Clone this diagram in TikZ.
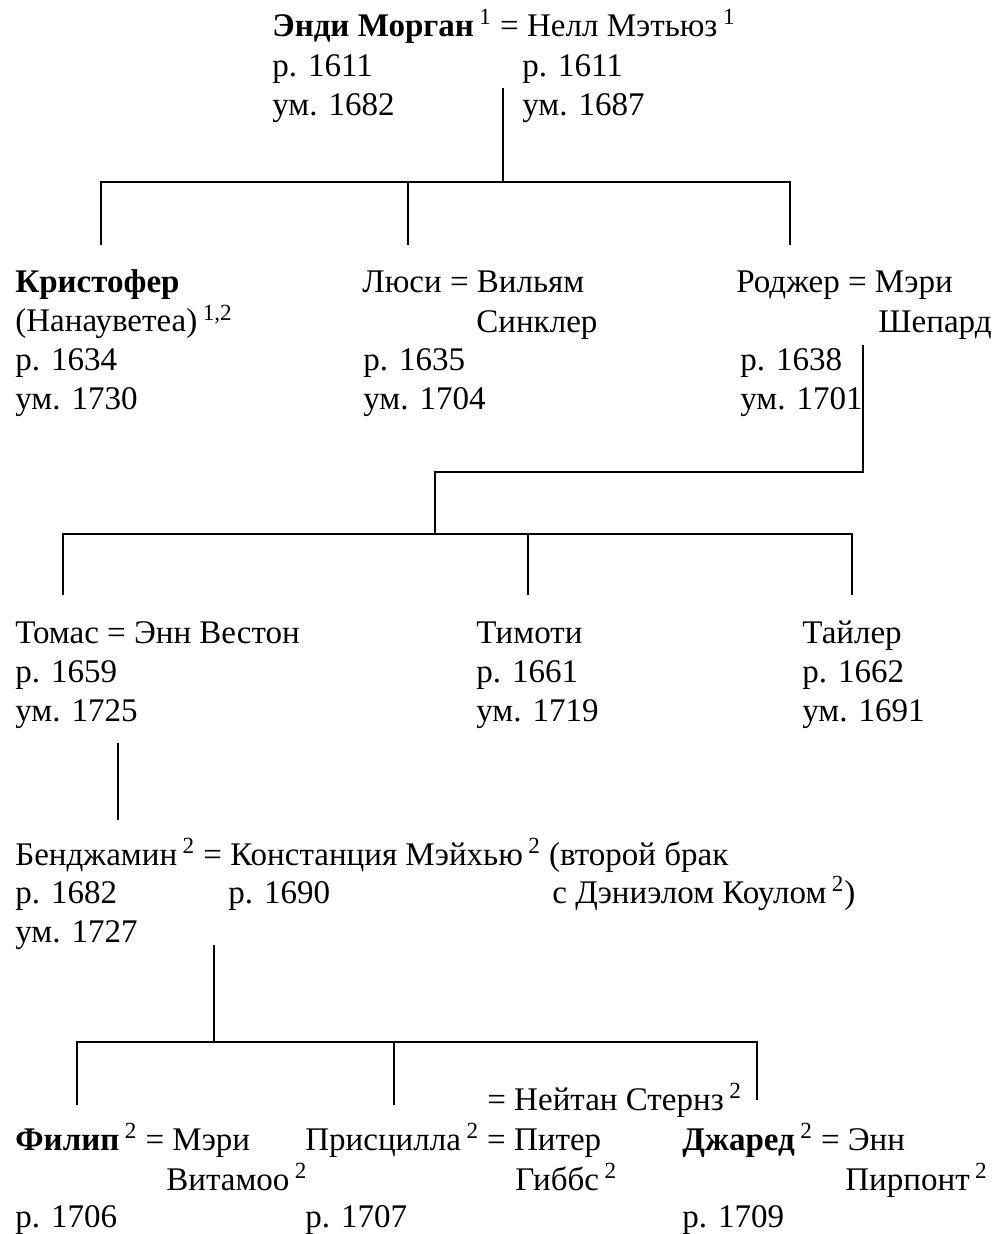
\documentclass[tikz,border=0pt]{standalone}
\usepackage{fontspec}
\setmainfont{Liberation Serif}
\tikzset{
	person/.style={anchor=base west, align=left, inner sep=0pt, font=\fontsize{18.8}{22.1}\selectfont},
	kin/.style={line width=1.6pt}
}
\newcommand{\fn}[1]{\,\textsuperscript{#1}}
\begin{document}
\begin{tikzpicture}[x=0.02cm, y=-0.02cm]
	\useasboundingbox (0,0) rectangle (993,1234);
	% first generation (multi-line nodes sit on their last line)
	\node[person] (andy) at (272,36) {\textbf{Энди Морган}\fn{1} = Нелл Мэтьюз\fn{1}};
	\node[person] (andyd) at (272,115) {р. 1611\\ум. 1682};
	\node[person] (nelld) at (522,115) {р. 1611\\ум. 1687};
	% children
	\node[person] (chris) at (15,409) {\textbf{Кристофер}\\(Нанауветеа)\fn{1,2}\\р. 1634\\ум. 1730};
	\node[person] (lucy) at (362,292) {Люси = Вильям};
	\node[person] (sinclair) at (476,332) {Синклер};
	\node[person] (lucyd) at (363,409) {р. 1635\\ум. 1704};
	\node[person] (roger) at (736,292) {Роджер = Мэри};
	\node[person] (shepard) at (878,332) {Шепард};
	\node[person] (rogerd) at (740,409) {р. 1638\\ум. 1701};
	% grandchildren
	\node[person] (thomas) at (15,721) {Томас = Энн Вестон\\р. 1659\\ум. 1725};
	\node[person] (timothy) at (476,721) {Тимоти\\р. 1661\\ум. 1719};
	\node[person] (tyler) at (802,721) {Тайлер\\р. 1662\\ум. 1691};
	% benjamin
	\node[person] (benjamin) at (15,865) {Бенджамин\fn{2} = Констанция Мэйхью\fn{2} (второй брак};
	\node[person] (benjd) at (15,942) {р. 1682\\ум. 1727};
	\node[person] (constd) at (228,903) {р. 1690};
	\node[person] (cole) at (552,903) {с Дэниэлом Коулом\fn{2})};
	% last generation
	\node[person] (stearns) at (487,1110) {= Нейтан Стернз\fn{2}};
	\node[person] (philip) at (15,1150) {\textbf{Филип}\fn{2} = Мэри};
	\node[person] (witamoo) at (166,1190) {Витамоо\fn{2}};
	\node[person] (philipd) at (15,1227) {р. 1706};
	\node[person] (priscilla) at (305,1150) {Присцилла\fn{2} = Питер};
	\node[person] (gibbs) at (515,1190) {Гиббс\fn{2}};
	\node[person] (priscillad) at (305,1227) {р. 1707};
	\node[person] (jared) at (682,1150) {\textbf{Джаред}\fn{2} = Энн};
	\node[person] (pierpont) at (845,1190) {Пирпонт\fn{2}};
	\node[person] (jaredd) at (682,1227) {р. 1709};
	% line ends
	\coordinate (m1) at (503,88);
	\coordinate (h1) at (503,182);
	\coordinate (c1) at (101,245);
	\coordinate (c2) at (408,245);
	\coordinate (c3) at (790,245);
	\coordinate (m2) at (863,345);
	\coordinate (h2) at (435,472);
	\coordinate (h3) at (435,534);
	\coordinate (g1) at (63,595);
	\coordinate (g2) at (528,595);
	\coordinate (g3) at (852,595);
	\coordinate (m3) at (118,743);
	\coordinate (s3) at (118,820);
	\coordinate (m4) at (214,945);
	\coordinate (h4) at (214,1042);
	\coordinate (k1) at (77,1105);
	\coordinate (k2) at (394,1105);
	\coordinate (k3) at (757,1100);
	% connectors
	\draw[kin] (m1) -- (h1);
	\draw[kin] (c1) |- (h1) -| (c3);
	\draw[kin] (c2) -- (c2 |- h1);
	\draw[kin] (m2) |- (h2) -- (h3);
	\draw[kin] (g1) |- (h3) -| (g3);
	\draw[kin] (g2) -- (g2 |- h3);
	\draw[kin] (m3) -- (s3);
	\draw[kin] (m4) -- (h4);
	\draw[kin] (k1) |- (h4) -| (k3);
	\draw[kin] (k2) -- (k2 |- h4);
\end{tikzpicture}
\end{document}
